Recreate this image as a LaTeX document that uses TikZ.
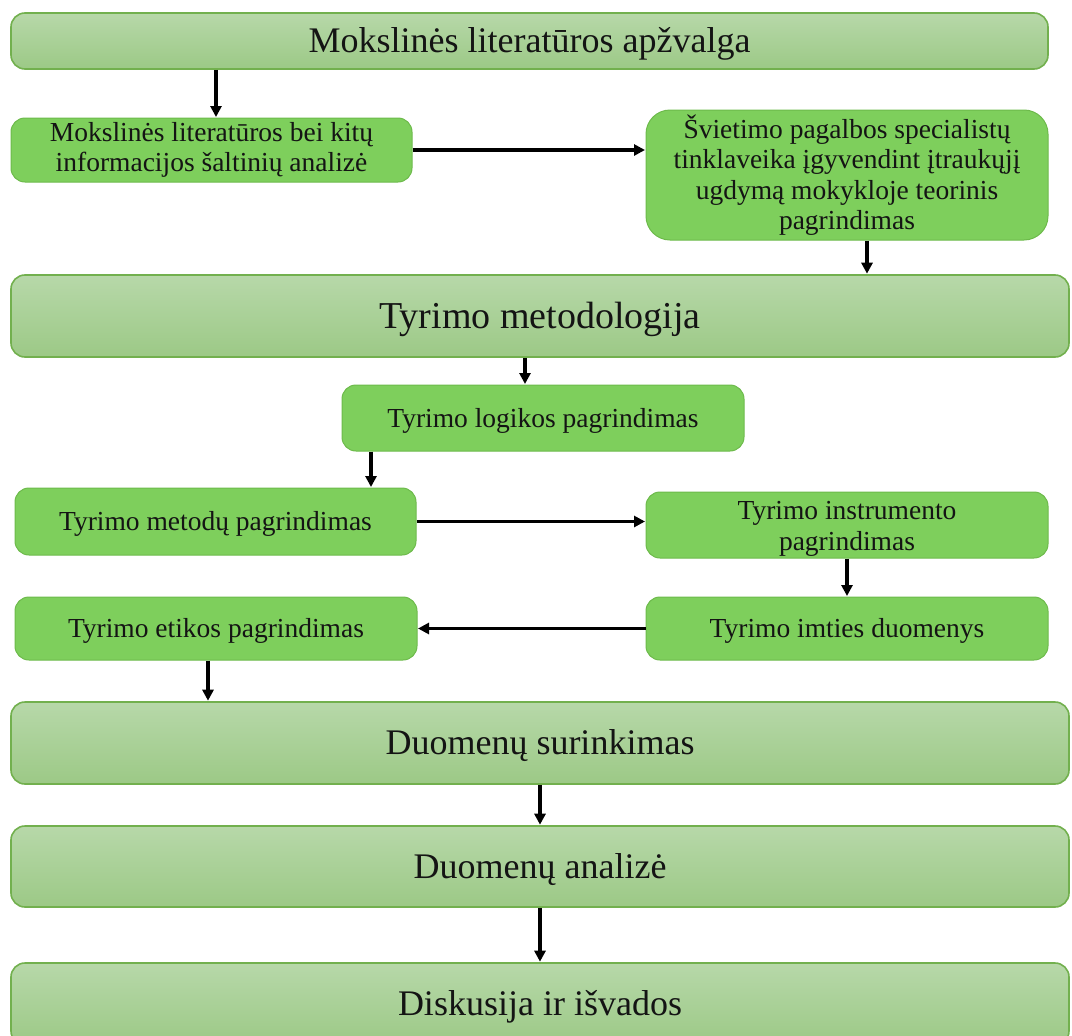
\documentclass[tikz,border=0pt]{standalone}
\usepackage{fontspec}
\setmainfont{Liberation Serif}
\usetikzlibrary{arrows.meta}

\definecolor{barTop}{HTML}{B7D8A9}
\definecolor{barBot}{HTML}{9CC986}
\definecolor{barEdge}{HTML}{72B04E}
\definecolor{boxFill}{HTML}{7ECF5C}
\definecolor{boxEdge}{HTML}{6DBA4B}
\definecolor{ink}{HTML}{141414}

\tikzset{
  x=1pt, y=-1pt,
  phase/.style={draw=barEdge, line width=1.6pt, top color=barTop, bottom color=barBot,
    rounded corners=14pt, inner sep=0pt, text=ink,
    text height=23.8pt, text depth=0pt,
    font=\fontsize{36}{40}\selectfont},
  stepbox/.style={draw=boxEdge, line width=1pt, fill=boxFill,
    rounded corners=14pt, inner sep=0pt, text=ink, align=center,
    font=\fontsize{27.5}{30.5}\selectfont},
  oneline/.style={text height=18.2pt, text depth=0pt},
  arr/.style={line width=3.2pt, draw=black,
    -{Triangle[length=11pt,width=11pt]}, shorten >=0.5pt}
}

\begin{document}
\begin{tikzpicture}
\useasboundingbox (0,0) rectangle (1072,1036);
\clip (0,0) rectangle (1072,1036);

% main phases
\node[phase, minimum width=1037pt, minimum height=56pt] (top)  at (529.5,41)  {Mokslinės literatūros apžvalga};
\node[phase, minimum width=1058pt, minimum height=82pt, text height=25pt,
      font=\fontsize{38}{42}\selectfont] (meth) at (540,316) {Tyrimo metodologija};
\node[phase, minimum width=1058pt, minimum height=82pt] (coll) at (540,743)   {Duomenų surinkimas};
\node[phase, minimum width=1058pt, minimum height=81pt] (anal) at (540,866.5) {Duomenų analizė};
\node[phase, minimum width=1058pt, minimum height=82pt] (disc) at (540,1004)  {Diskusija ir išvados};

% steps
\node[stepbox, minimum width=401pt, minimum height=64pt] (lit) at (211.5,150)
  {Mokslinės literatūros bei kitų\\informacijos šaltinių analizė};
\node[stepbox, minimum width=402pt, minimum height=130pt, rounded corners=24pt] (theo) at (847,175)
  {Švietimo pagalbos specialistų\\tinklaveika įgyvendint įtraukųjį\\ugdymą mokykloje teorinis\\pagrindimas};
\node[stepbox, oneline, minimum width=402pt, minimum height=66pt] (logic) at (543,418)   {Tyrimo logikos pagrindimas};
\node[stepbox, oneline, minimum width=401pt, minimum height=67pt] (metod) at (215.5,521.5) {Tyrimo metodų pagrindimas};
\node[stepbox, minimum width=402pt, minimum height=66pt, text height=56.5pt] (instr) at (847,525)
  {Tyrimo instrumento\\pagrindimas};
\node[stepbox, oneline, minimum width=402pt, minimum height=63pt] (sample) at (847,628.5) {Tyrimo imties duomenys};
\node[stepbox, oneline, minimum width=402pt, minimum height=63pt] (ethic) at (216,628.5)  {Tyrimo etikos pagrindimas};

% connectors
\draw[arr] ([xshift=4.5pt]lit.north |- top.south) -- ([xshift=4.5pt]lit.north);
\draw[arr] (lit.east) -- (lit.east -| theo.west);
\draw[arr] ([xshift=20pt]theo.south) -- ([xshift=20pt]theo.south |- meth.north);
\draw[arr] ([xshift=-18pt]logic.north |- meth.south) -- ([xshift=-18pt]logic.north);
\draw[arr] ([xshift=-172pt]logic.south) -- ([xshift=-172pt]logic.south |- metod.north);
\draw[arr] (metod.east) -- (metod.east -| instr.west);
\draw[arr] (instr.south) -- (sample.north);
\draw[arr] (sample.west) -- (sample.west -| ethic.east);
\draw[arr] ([xshift=-8pt]ethic.south) -- ([xshift=-8pt]ethic.south |- coll.north);
\draw[arr] (coll.south) -- (anal.north);
\draw[arr] (anal.south) -- (disc.north);
\end{tikzpicture}
\end{document}
